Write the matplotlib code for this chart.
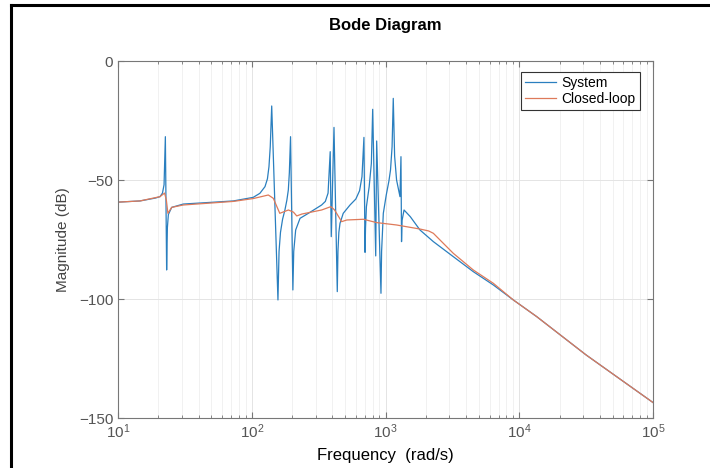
import matplotlib.pyplot as plt
from matplotlib.lines import Line2D
from matplotlib.ticker import LogLocator, NullFormatter

plt.rcParams['font.family'] = ['Liberation Sans', 'DejaVu Sans']

# Magnitude of the open system, frequency in rad/s
sys_freq = [10, 14.6, 19.0, 20.6, 21.5, 22.1, 22.6, 23.1, 23.4, 23.8, 25.2, 30.8, 46.1, 72.8,
            102.5, 115, 125.6, 131, 134.5, 137.5, 141, 157, 160, 164, 170, 177, 183, 187.7,
            191, 195, 203, 206, 213, 229.6, 265, 333, 355, 372, 386, 393, 412, 436, 441,
            448, 457, 483, 543, 600, 640, 667, 690, 703, 709, 720, 755, 784, 802, 845, 859,
            925, 935, 963, 1013, 1060, 1090, 1120, 1143, 1170, 1210, 1283, 1305, 1318,
            1330, 1376, 1532, 1810, 2280, 3212, 4530, 6400, 9030, 13500, 31600, 100000]
sys_db = [-59.3, -58.8, -57.6, -57.0, -55.5, -52.0, -31.8, -87.8, -70.0, -64.5, -61.5, -60.1, -59.5, -58.8,
          -57.3, -55.6, -52.8, -49.5, -44.4, -36.0, -18.9, -100.4, -80.0, -72.0, -66.5, -62.6, -58.5, -54.2,
          -47.0, -31.8, -96.2, -80.0, -71.0, -66.1, -64.0, -60.5, -59.0, -55.5, -38.1, -73.8, -27.9, -96.9, -80.0,
          -72.0, -68.2, -64.0, -60.5, -58.0, -54.5, -48.6, -32.1, -80.4, -70.0, -61.2, -52.8, -43.0, -20.3, -81.9, -33.6,
          -97.6, -80.0, -64.0, -56.3, -50.5, -45.8, -36.0, -15.7, -40.0, -50.0, -57.0, -40.2, -75.9,
          -67.0, -62.6, -65.4, -71.0, -75.9, -82.2, -88.5, -94.1, -100.4, -107.4, -123.5, -143.5]

# Magnitude of the closed loop
cl_freq = [10, 14.6, 20.6, 22.3, 23.0, 23.6, 25.2, 30.8, 46.1, 72.8, 102.5, 133, 145, 155, 162,
           188, 205, 217, 237, 333, 390, 415, 431, 470, 514, 684, 859, 1210, 1810, 2100, 2280,
           2555, 3212, 4530, 6400, 9030, 13500, 31600, 100000]
cl_db = [-59.3, -58.8, -57.0, -55.5, -58.5, -64.0, -61.5, -60.5, -59.8, -59.0, -57.8, -56.3, -57.7, -61.5, -64.0,
         -62.6, -63.5, -65.1, -64.3, -62.6, -61.2, -62.5, -64.0, -67.5, -66.8, -66.5, -67.9, -68.9, -70.6, -71.4, -72.4,
         -75.2, -80.8, -87.8, -93.4, -100.4, -107.4, -123.5, -143.5]

y_ticks = [-150, -100, -50, 0]

fig = plt.figure(figsize=(7.1, 4.68), dpi=100)
ax = fig.add_axes([118 / 710, 1 - 418 / 468, 535 / 710, 357 / 468])

ax.semilogx(sys_freq, sys_db, color='#2a7fbf', lw=0.9, label='System')
ax.semilogx(cl_freq, cl_db, color='#de7a5a', lw=0.9, label='Closed-loop')

ax.set_xlim(10, 1e5)
ax.set_ylim(-150, 0)
ax.set_yticks(y_ticks)
ax.xaxis.set_minor_locator(LogLocator(base=10, subs=range(2, 10)))
ax.xaxis.set_minor_formatter(NullFormatter())

# MATLAB-like look: grey box, inward ticks on all sides, faint grid
for s in ax.spines.values():
    s.set_color('#777777')
    s.set_linewidth(0.8)
ax.tick_params(which='both', direction='in', top=True, right=True,
               colors='#777777', labelcolor='#555555', labelsize=11)
ax.tick_params(which='major', length=4)
ax.tick_params(which='minor', length=2)
ax.grid(which='major', color='#e4e4e4', lw=0.7)
ax.grid(which='minor', axis='x', color='#efefef', lw=0.6)
ax.set_axisbelow(True)

ax.set_title('Bode Diagram', fontsize=12, fontweight='bold', pad=22)
ax.set_xlabel('Frequency  (rad/s)', fontsize=12, labelpad=5)
ax.set_ylabel('Magnitude (dB)', fontsize=11, color='#444444', labelpad=6)

leg = ax.legend(loc='upper right', bbox_to_anchor=(0.988, 0.99), fontsize=10,
                handlelength=2.2, borderpad=0.3, labelspacing=0.15,
                handletextpad=0.4, fancybox=False, framealpha=1)
leg.get_frame().set_edgecolor('#333333')
leg.get_frame().set_linewidth(0.8)

# black frame along top and left edges of the image
fig.add_artist(Line2D([11 / 710, 1], [1 - 5 / 468, 1 - 5 / 468], color='black', lw=2.2))
fig.add_artist(Line2D([11 / 710, 11 / 710], [0, 1 - 5 / 468], color='black', lw=2.2))

plt.savefig('out.png', dpi=100)
